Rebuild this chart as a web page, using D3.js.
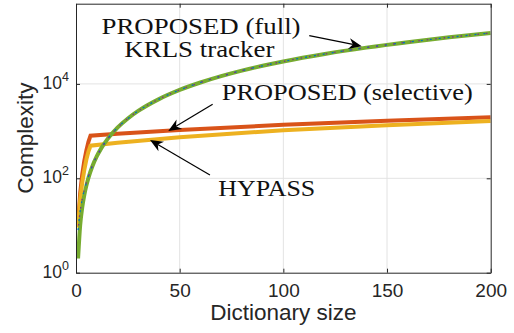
<!DOCTYPE html>
<html>
<head>
<meta charset="utf-8">
<script src="https://cdn.jsdelivr.net/npm/d3@7"></script>
<style>
  html, body { margin: 0; padding: 0; background: #fff; }
  svg { display: block; }
</style>
</head>
<body>
<svg id="chart" width="514" height="333"></svg>
<script>
// Complexity against dictionary size for the trackers being compared.
const dictSizeFull = [1, 2, 3, 4, 5, 6, 8, 10, 12, 15, 20, 25, 30, 40, 50, 60, 70, 80, 90, 100, 120, 140, 160, 180, 200];
const complexityFull = [2, 10, 24, 44, 70, 102, 184, 290, 420, 660, 1180, 1850, 2670, 4760, 7450, 10700, 14600, 19100, 24200, 29900, 43100, 58700, 76600, 97000, 119800];
const complexityKRLS = [8, 20, 36, 56, 80, 110, 190, 290, 420, 660, 1180, 1850, 2670, 4760, 7450, 10700, 14600, 19100, 24200, 29900, 43100, 58700, 76600, 97000, 119800];

const dictSizeSelective = [1, 2, 3, 4, 5, 6, 7, 20, 50, 100, 150, 200];
const complexitySelective = [11, 48, 120, 235, 390, 590, 800, 878, 1058, 1358, 1658, 1958];

const dictSizeHypass = [1, 2, 3, 4, 5, 6, 7, 20, 50, 100, 150, 200];
const complexityHypass = [9, 35, 80, 150, 250, 370, 490, 566, 744, 1040, 1337, 1633];

const xTicks = [0, 50, 100, 150, 200];
const yTicks = [1, 100, 10000];
const yTickExponents = ["0", "2", "4"];
const xDomain = [0, 200];
const yDomain = [1, 5e5];

const W = 514, H = 333;
const plot = { left: 76, right: 490.7, top: 3.7, bottom: 272.7 };
const axisColor = "#262626";
const gridColor = "#e3e3e3";
const colors = { blue: "#0072BD", red: "#D95319", yellow: "#EDB120", purple: "#7E2F8E", green: "#77AC30" };

const svg = d3.select("#chart");
const x = d3.scaleLinear().domain(xDomain).range([plot.left, plot.right]);
const y = d3.scaleLog().domain(yDomain).range([plot.bottom, plot.top]);

// grid
const grid = svg.append("g");
grid.selectAll("line.gx").data(xTicks.filter(t => t > xDomain[0] && t < xDomain[1])).join("line")
  .attr("x1", d => x(d)).attr("x2", d => x(d)).attr("y1", plot.top).attr("y2", plot.bottom)
  .attr("stroke", gridColor).attr("stroke-width", 1);
grid.selectAll("line.gy").data(yTicks.filter(t => t > yDomain[0])).join("line")
  .attr("y1", d => y(d)).attr("y2", d => y(d)).attr("x1", plot.left).attr("x2", plot.right)
  .attr("stroke", gridColor).attr("stroke-width", 1);

// series
svg.append("clipPath").attr("id", "plotclip").append("rect")
  .attr("x", plot.left).attr("y", plot.top).attr("width", plot.right - plot.left).attr("height", plot.bottom - plot.top);
const series = svg.append("g").attr("clip-path", "url(#plotclip)");

const lineLinear = d3.line().x(d => x(d[0])).y(d => y(d[1]));
const lineSmooth = d3.line().x(d => x(d[0])).y(d => y(d[1])).curve(d3.curveMonotoneX);
const pairs = (xs, ys) => xs.map((v, i) => [v, ys[i]]);

series.append("path").attr("d", lineLinear(pairs(dictSizeSelective, complexitySelective)))
  .attr("fill", "none").attr("stroke", colors.red).attr("stroke-width", 4).attr("stroke-linejoin", "miter");
series.append("path").attr("d", lineLinear(pairs(dictSizeHypass, complexityHypass)))
  .attr("fill", "none").attr("stroke", colors.yellow).attr("stroke-width", 4).attr("stroke-linejoin", "miter");
series.append("path").attr("d", lineSmooth(pairs(dictSizeFull, complexityFull)))
  .attr("fill", "none").attr("stroke", colors.green).attr("stroke-width", 4);
series.append("path").attr("d", lineSmooth(pairs(dictSizeFull, complexityKRLS)))
  .attr("fill", "none").attr("stroke", colors.blue).attr("stroke-width", 1.3).attr("stroke-dasharray", "2,7");
series.append("path").attr("d", lineSmooth(pairs(dictSizeFull, complexityKRLS)))
  .attr("fill", "none").attr("stroke", colors.purple).attr("stroke-width", 1.3)
  .attr("stroke-dasharray", "1.5,7").attr("stroke-dashoffset", 4);

// axes
const sans = "Liberation Sans, Arial, sans-serif";
const xAxis = d3.axisBottom(x).tickValues(xTicks).tickFormat(d3.format("d"))
  .tickSizeInner(-4).tickSizeOuter(0).tickPadding(10.5);
const gx = svg.append("g").attr("transform", `translate(0,${plot.bottom})`).call(xAxis);
gx.select(".domain").attr("stroke", axisColor);
gx.selectAll(".tick line").attr("stroke", axisColor);
gx.selectAll(".tick text").attr("fill", axisColor).attr("font-family", sans).attr("font-size", 19);

const xTop = d3.axisTop(x).tickValues(xTicks).tickFormat("").tickSizeInner(-4).tickSizeOuter(0);
const gxt = svg.append("g").attr("transform", `translate(0,${plot.top})`).call(xTop);
gxt.select(".domain").attr("stroke", axisColor);
gxt.selectAll(".tick line").attr("stroke", axisColor);

const yAxis = d3.axisLeft(y).tickValues(yTicks).tickFormat(() => "")
  .tickSizeInner(-4).tickSizeOuter(0);
const gy = svg.append("g").attr("transform", `translate(${plot.left},0)`).call(yAxis);
gy.select(".domain").attr("stroke", axisColor);
gy.selectAll(".tick line").attr("stroke", axisColor);
gy.selectAll(".tick text").each(function(d, i) {
  const t = d3.select(this).text(null)
    .attr("x", -7).attr("dy", "0.44em").attr("text-anchor", "end")
    .attr("fill", axisColor).attr("font-family", sans);
  t.append("tspan").attr("font-size", 17.5).text("10");
  t.append("tspan").attr("font-size", 12.5).attr("dy", "-0.62em").text(yTickExponents[i]);
});

const yRight = d3.axisRight(y).tickValues(yTicks).tickFormat("").tickSizeInner(-4).tickSizeOuter(0);
const gyr = svg.append("g").attr("transform", `translate(${plot.right},0)`).call(yRight);
gyr.select(".domain").attr("stroke", axisColor);
gyr.selectAll(".tick line").attr("stroke", axisColor);

// axis titles
svg.append("text").attr("x", (plot.left + plot.right) / 2).attr("y", 320)
  .attr("text-anchor", "middle").attr("fill", axisColor)
  .attr("font-family", sans).attr("font-size", 22.5)
  .text("Dictionary size");
svg.append("text").attr("transform", `translate(33,${(plot.top + plot.bottom) / 2}) rotate(-90)`)
  .attr("text-anchor", "middle").attr("fill", axisColor)
  .attr("font-family", sans).attr("font-size", 22.5)
  .text("Complexity");

// annotations, placed in data coordinates
const serif = "Liberation Serif, Times New Roman, serif";
const notes = [
  { text: "PROPOSED (full)", d: 60.3, v: 1.12e5, anchor: "middle", len: 199 },
  { text: "KRLS tracker", d: 59.5, v: 3.77e4, anchor: "middle", len: 150 },
  { text: "PROPOSED (selective)", d: 70.3, v: 4560, anchor: "start", len: 251 },
  { text: "HYPASS", d: 68.6, v: 42.8, anchor: "start", len: 97 }
];
svg.append("g").selectAll("text").data(notes).join("text")
  .attr("x", d => x(d.d)).attr("y", d => y(d.v)).attr("text-anchor", d => d.anchor)
  .attr("font-family", serif).attr("font-size", 24).attr("fill", "#111")
  .attr("textLength", d => d.len).attr("lengthAdjust", "spacingAndGlyphs")
  .text(d => d.text);

const arrows = [
  { from: [112.5, 1.05e5], to: [137.8, 6.3e4] },
  { from: [65.9, 3700], to: [44.5, 1005] },
  { from: [64.6, 117], to: [35.7, 648] }
];
const ag = svg.append("g");
arrows.forEach(a => {
  const x0 = x(a.from[0]), y0 = y(a.from[1]);
  const x1 = x(a.to[0]), y1 = y(a.to[1]);
  const ang = Math.atan2(y1 - y0, x1 - x0);
  const L = 13, hw = 5.5, notch = 9;
  const ux = Math.cos(ang), uy = Math.sin(ang), px = -uy, py = ux;
  const bx = x1 - ux * L, by = y1 - uy * L;
  const nx = x1 - ux * notch, ny = y1 - uy * notch;
  ag.append("line").attr("x1", x0).attr("y1", y0).attr("x2", nx).attr("y2", ny)
    .attr("stroke", "#000").attr("stroke-width", 1.2);
  ag.append("path")
    .attr("d", `M${x1},${y1}L${bx + px * hw},${by + py * hw}L${nx},${ny}L${bx - px * hw},${by - py * hw}Z`)
    .attr("fill", "#000");
});
</script>
</body>
</html>
